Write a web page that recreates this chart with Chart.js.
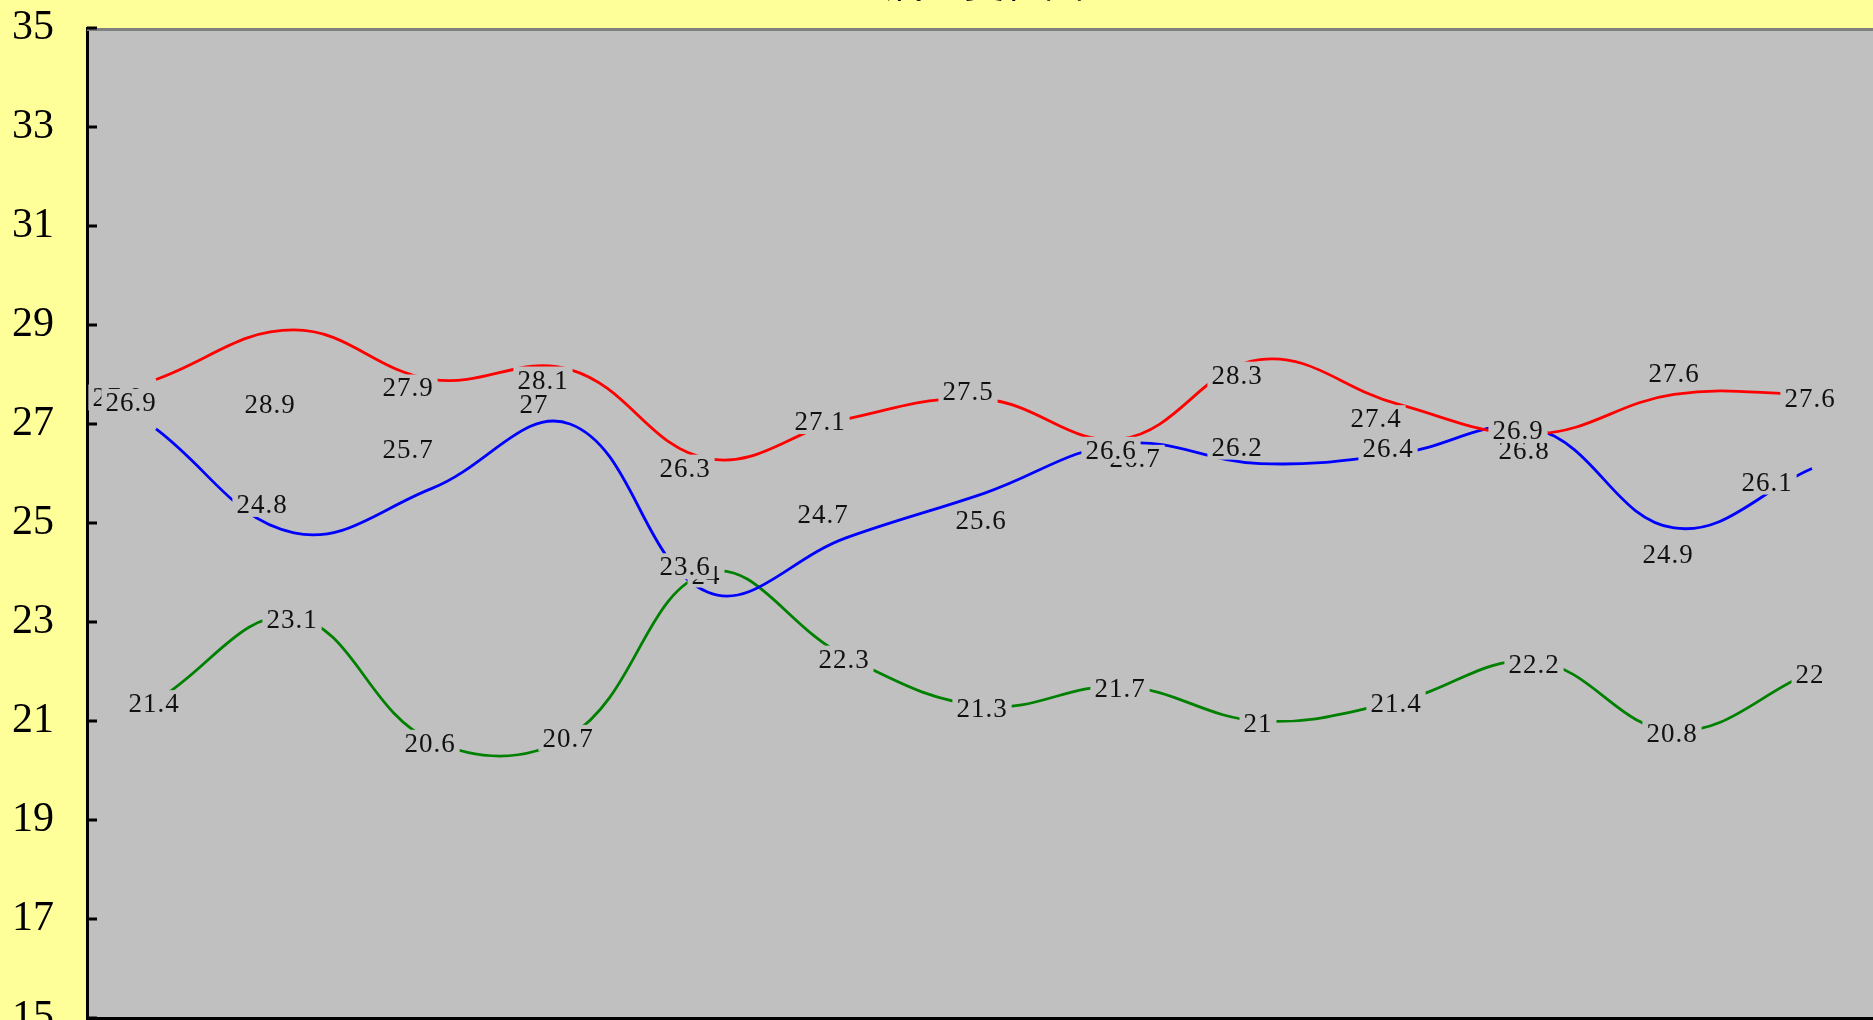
<!DOCTYPE html>
<html>
<head>
<meta charset="utf-8">
<title>氣溫變化圖</title>
<script src="https://cdn.jsdelivr.net/npm/chart.js@4.4.1/dist/chart.umd.min.js"></script>
<style>
  html, body { margin:0; padding:0; background:#ffff99; overflow:hidden; width:1873px; height:1020px; }
  #wrap { position:absolute; left:0; top:-50px; }
</style>
</head>
<body>
<div id="wrap"><canvas id="chart" width="1885" height="1128"></canvas></div>
<script>
// --- values
const categories = ["1","2","3","4","5","6","7","8","9","10","11","12","13"];
const redValues   = [27.9, 28.9, 27.9, 28.1, 26.3, 27.1, 27.5, 26.7, 28.3, 27.4, 26.8, 27.6, 27.6];
const blueValues  = [26.9, 24.8, 25.7, 27, 23.6, 24.7, 25.6, 26.6, 26.2, 26.4, 26.9, 24.9, 26.1];
const greenValues = [21.4, 23.1, 20.6, 20.7, 24, 22.3, 21.3, 21.7, 21, 21.4, 22.2, 20.8, 22];
const yMin = 15, yMax = 35, yStep = 2;

// label nudges (px) so the value boxes sit where the original put them
const redNudge  = [[-38,18],[-24,74],[-24,8],[-27,10],[-23,9],[-26,2],[-16,-8],[13,19],[-23,15],[-22,14],[-12,16],[0,-21],[-2,4]];
const blueNudge = [[-25,-27],[-32,-29],[-24,-39],[-36,-20],[-23,-26],[-23,-24],[-3,27],[-11,6],[-23,-17],[-10,-6],[-18,1],[-6,26],[-45,13]];
const greenNudge = [-2, 2];

const PLOT_BG = "#c0c0c0";

// --- plugins
const plotBg = {
  id: "plotBg",
  beforeDraw(chart) {
    const { ctx, chartArea: a } = chart;
    ctx.save();
    ctx.fillStyle = PLOT_BG;
    ctx.fillRect(a.left, a.top, a.right - a.left, a.bottom - a.top);
    ctx.restore();
  }
};

const frame = {
  id: "frame",
  beforeDatasetsDraw(chart) {
    const { ctx, chartArea: a, scales } = chart;
    ctx.save();
    // grey top edge of the plot
    ctx.fillStyle = "#808080";
    ctx.fillRect(a.left, a.top, a.right - a.left, 3);
    // inner ticks on the value axis
    ctx.fillStyle = "#000";
    scales.y.ticks.forEach(t => {
      const y = scales.y.getPixelForValue(t.value);
      ctx.fillRect(a.left, Math.round(y) - 1.5, 10, 3);
    });
    ctx.restore();
  }
};

const valueLabels = {
  id: "valueLabels",
  afterDatasetsDraw(chart) {
    const { ctx } = chart;
    ctx.save();
    ctx.font = "27px 'Liberation Serif', serif";
    if ("letterSpacing" in ctx) ctx.letterSpacing = "1px";
    ctx.textAlign = "center";
    ctx.textBaseline = "alphabetic";
    // red first, then green, blue on top
    [0, 2, 1].forEach(di => {
      const meta = chart.getDatasetMeta(di);
      const ds = chart.data.datasets[di];
      meta.data.forEach((pt, i) => {
        const n = ds.nudge === greenNudge ? greenNudge : ds.nudge[i];
        const cx = pt.x + n[0], cy = pt.y + n[1];
        const txt = String(ds.data[i]);
        const w = ctx.measureText(txt).width;
        ctx.fillStyle = PLOT_BG;
        ctx.fillRect(cx - w / 2 - 4, cy - 13, w + 8, 26);
        ctx.fillStyle = "#111";
        ctx.fillText(txt, cx, cy + 9);
      });
    });
    ctx.restore();
  }
};

// --- chart
new Chart(document.getElementById("chart"), {
  type: "line",
  data: {
    labels: categories,
    datasets: [
      { label: "red",   data: redValues,   borderColor: "#ff0000", nudge: redNudge },
      { label: "blue",  data: blueValues,  borderColor: "#0000ff", nudge: blueNudge },
      { label: "green", data: greenValues, borderColor: "#008000", nudge: greenNudge }
    ].map(d => ({ ...d, borderWidth: 2.8, pointRadius: 0, tension: 0.4, fill: false }))
  },
  options: {
    responsive: false,
    devicePixelRatio: 1,
    animation: false,
    layout: { padding: { left: 0, right: 4, top: 0, bottom: 0 } },
    plugins: {
      legend: { display: false },
      tooltip: { enabled: false },
      title: {
        display: true,
        text: "氣溫變化圖",
        fullSize: false,
        color: "#000",
        font: { family: "'Noto Sans CJK TC'", size: 40, weight: "normal" },
        padding: { top: 8, bottom: 22 }
      }
    },
    scales: {
      x: {
        offset: true,
        grid: { display: false },
        border: { display: true, color: "#000", width: 3 },
        ticks: { color: "#000", font: { family: "'Liberation Serif'", size: 30 } },
        afterFit(s) { s.height = 60; }
      },
      y: {
        min: yMin,
        max: yMax,
        grid: { display: false, drawTicks: false },
        border: { display: true, color: "#000", width: 3 },
        ticks: {
          stepSize: yStep,
          padding: 33,
          color: "#000",
          font: { family: "'Liberation Serif'", size: 42 }
        },
        afterFit(s) { s.width = 87; }
      }
    }
  },
  plugins: [plotBg, frame, valueLabels]
});
</script>
</body>
</html>
